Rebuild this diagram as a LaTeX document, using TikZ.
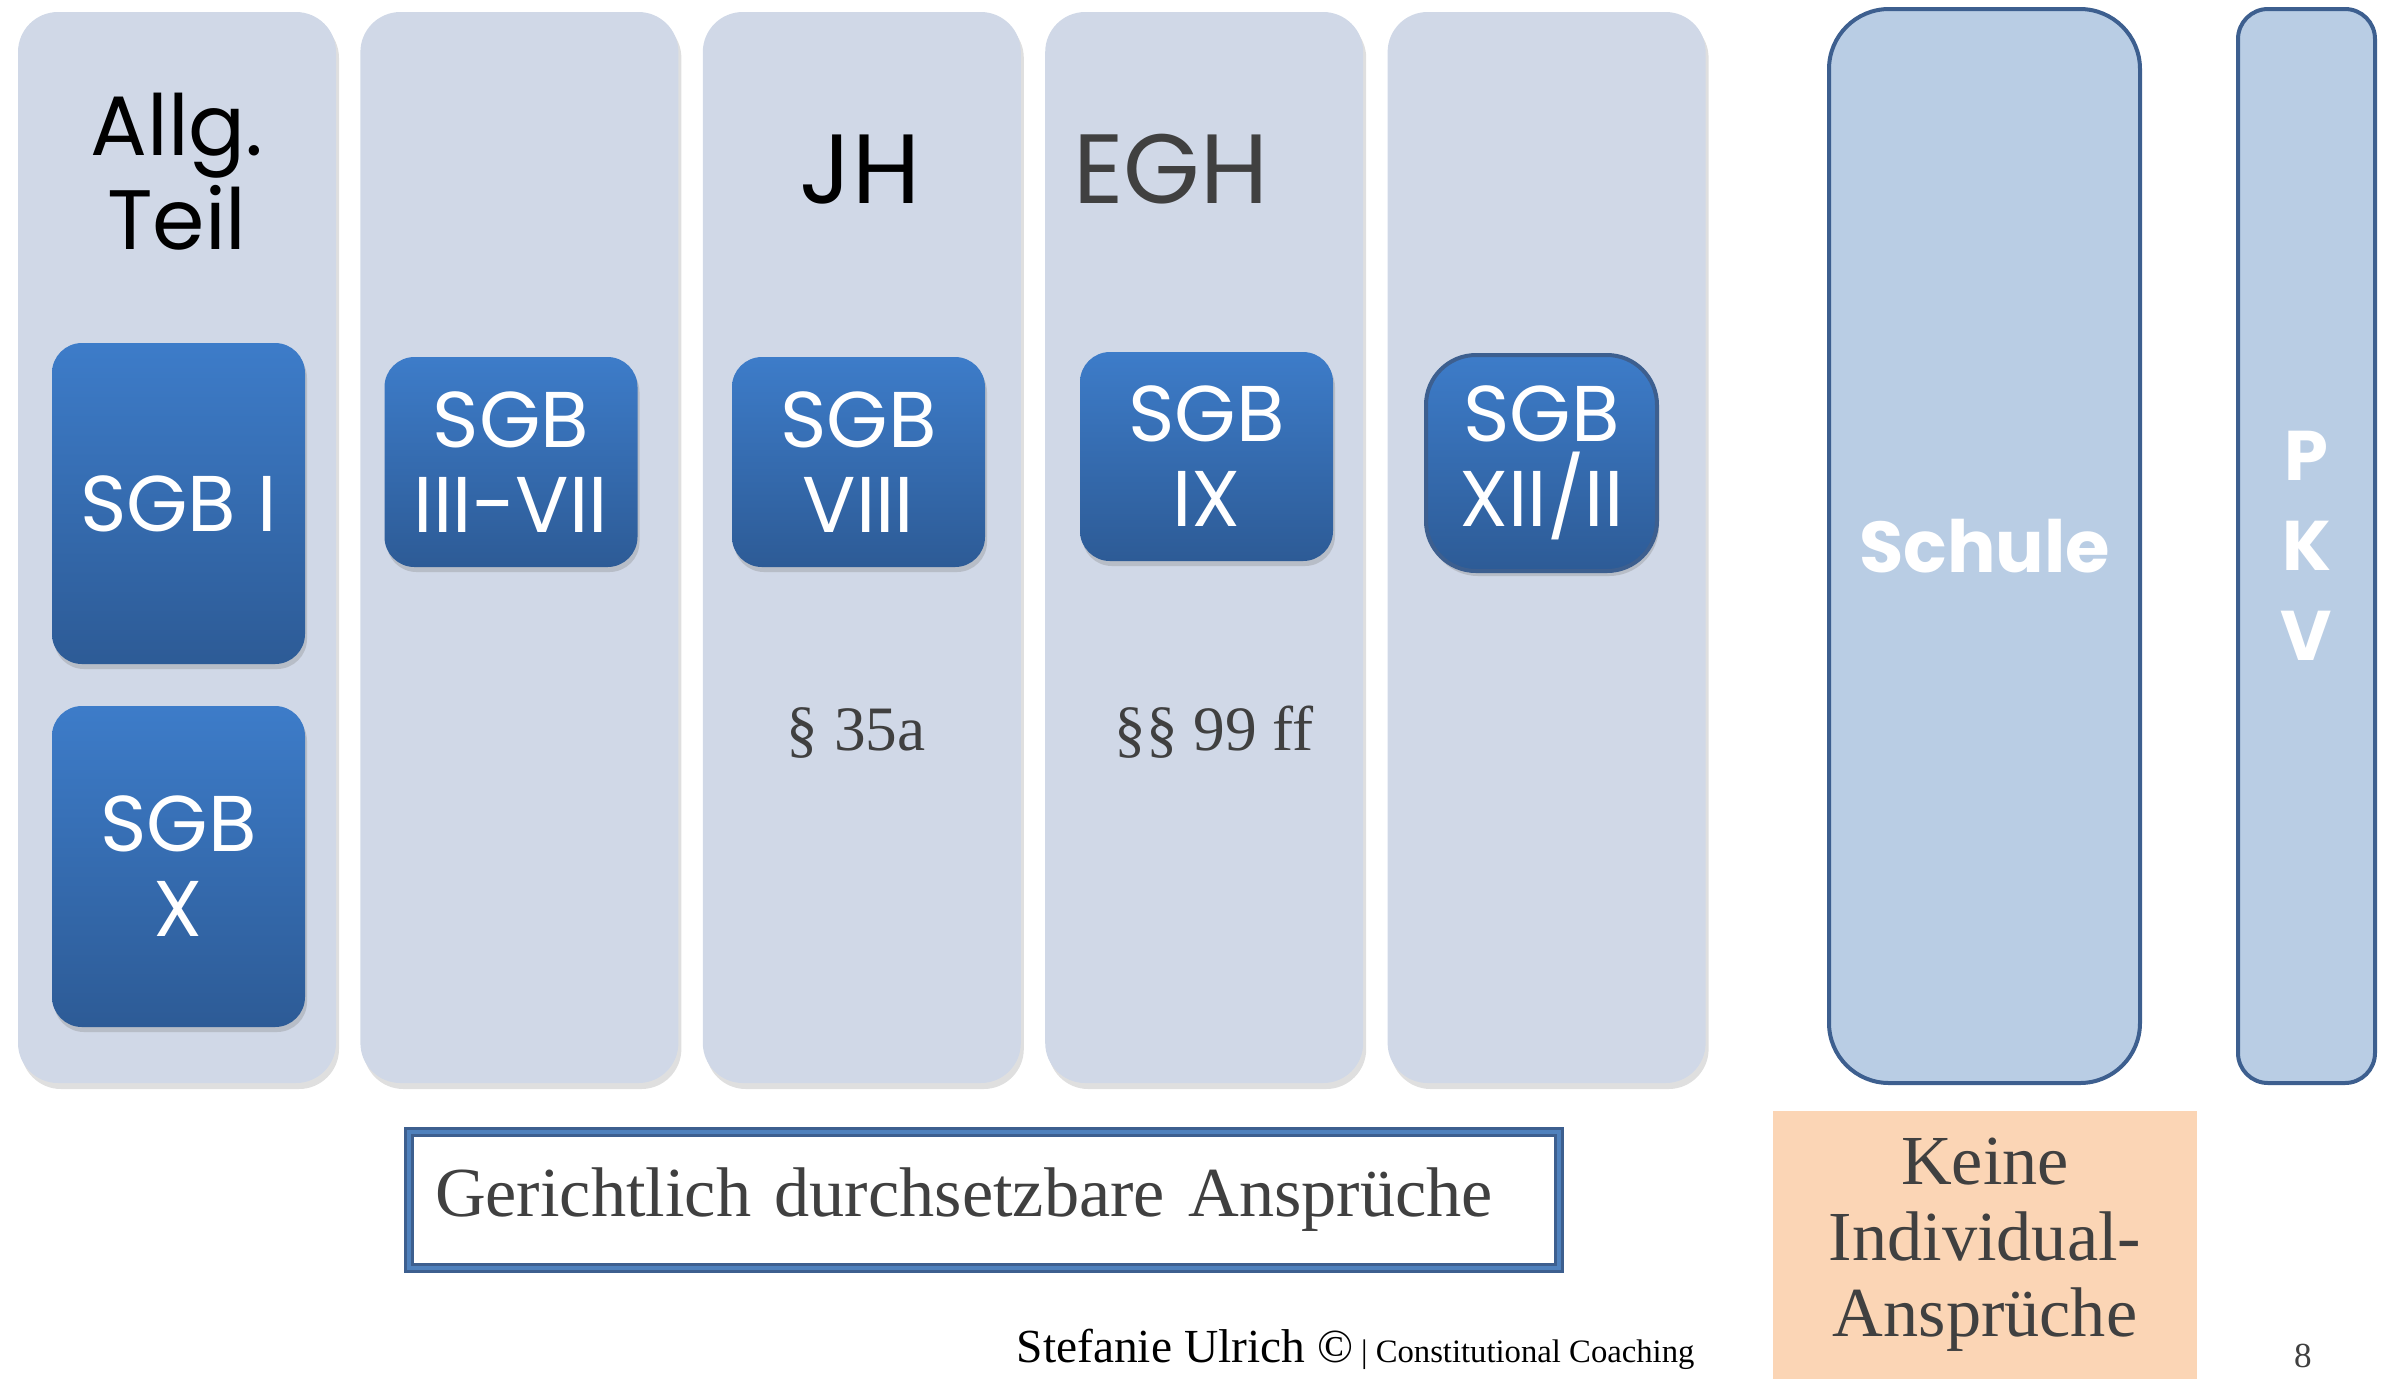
\documentclass[tikz,border=0pt]{standalone}
\usepackage{fontspec}
\setmainfont{Liberation Serif}
\newfontfamily\gothic{Poppins}
\usepackage{tikz}
\usepackage{xcolor}
\usetikzlibrary{positioning}
\usetikzlibrary{shadows}
\definecolor{colfill}{HTML}{D0D8E7}
\definecolor{sgbtop}{HTML}{3D7CC9}
\definecolor{sgbbot}{HTML}{2D5B96}
\definecolor{schulefill}{HTML}{B9CDE4}
\definecolor{bordblue}{HTML}{3D5F8F}
\definecolor{framelight}{HTML}{4F81BD}
\definecolor{keinefill}{HTML}{FBD5B5}
\definecolor{textgrey}{HTML}{404040}
\tikzstyle{column} = [rounded corners=0.4cm, fill=colfill, minimum width=3.18cm, minimum height=10.71cm, inner sep=0pt, drop shadow={opacity=0.25, shadow xshift=0.03cm, shadow yshift=-0.06cm}]
\tikzstyle{sgb} = [rounded corners=0.3cm, top color=sgbtop, bottom color=sgbbot, text=white, align=center, inner sep=0pt, minimum width=2.53cm, font=\gothic\fontsize{22.5}{24.2}\selectfont, drop shadow={opacity=0.3, shadow xshift=0.02cm, shadow yshift=-0.05cm}]
\tikzstyle{rightbox} = [draw=bordblue, line width=0.04cm, fill=schulefill, minimum height=10.74cm, inner sep=0pt, text=white, align=center]

\begin{document}
\begin{tikzpicture}
			\useasboundingbox (0,0) rectangle (23.92,-13.79);
			\node[column] at (1.77,-5.475) (col1) {};
			\node[column, right=0.23cm of col1] (col2) {};
			\node[column, right=0.23cm of col2] (col3) {};
			\node[column, right=0.23cm of col3] (col4) {};
			\node[column, right=0.23cm of col4] (col5) {};

			\node[align=center, font=\gothic\fontsize{24}{26.7}\selectfont] at (1.77,-1.72) (allg) {Allg.\\Teil};
			\node[anchor=base, font=\gothic\fontsize{28}{30}\selectfont] at (8.60,-2.03) (jh) {JH};
			\node[anchor=base, text=textgrey, font=\gothic\fontsize{28}{30}\selectfont] at (11.71,-2.03) (egh) {EGH};

			\node[sgb, minimum height=3.21cm] at (1.785,-5.035) (sgbI) {SGB I};
			\node[sgb, minimum height=3.21cm] at (1.785,-8.665) (sgbX) {SGB\\X};
			\node[sgb, minimum height=2.10cm] at (5.11,-4.62) (sgbIII) {SGB\\III-VII};
			\node[sgb, minimum height=2.10cm] at (8.585,-4.62) (sgbVIII) {SGB\\VIII};
			\node[sgb, minimum height=2.09cm] at (12.065,-4.565) (sgbIX) {SGB\\IX};
			\node[sgb, draw=bordblue, line width=0.04cm, rounded corners=0.5cm, minimum width=2.31cm, minimum height=2.16cm] at (15.415,-4.63) (sgbXII) {SGB\\XII/II};

			\node[anchor=base, text=textgrey, font=\fontsize{18}{20}\selectfont] at (8.56,-7.50) (par35) {§ 35a};
			\node[anchor=base, text=textgrey, font=\fontsize{18}{20}\selectfont] at (12.14,-7.50) (par99) {§§ 99 ff};

			\node[rightbox, rounded corners=0.6cm, minimum width=3.11cm, font=\gothic\bfseries\fontsize{20.5}{24}\selectfont] at (19.845,-5.46) (schule) {Schule};
			\node[rightbox, rounded corners=0.3cm, minimum width=1.37cm, font=\gothic\bfseries\fontsize{20}{25.6}\selectfont] at (23.065,-5.46) (pkv) {P\\K\\V};

			\node[draw=bordblue, line width=0.9pt, double=framelight, double distance=1.1pt, fill=white, minimum width=11.5cm, minimum height=1.36cm, text width=10.98cm, inner xsep=0.26cm, align=left, text=textgrey, font=\fontsize{20}{22}\selectfont] at (9.84,-12.0) (anspr) {Gerichtlich durchsetzbare Ansprüche};
			\node[fill=keinefill, minimum width=4.24cm, minimum height=2.68cm, align=center, text=textgrey, font=\fontsize{20}{21.6}\selectfont] at (19.85,-12.45) (keine) {Keine\\Individual-\\Ansprüche};

			\node[anchor=base west, inner sep=0pt, font=\fontsize{13.5}{14}\selectfont] at (10.16,-13.62) (footer) {Stefanie Ulrich ©\,{\fontsize{9.3}{10}\selectfont| Constitutional Coaching}};
			\node[anchor=base, text=textgrey, font=\fontsize{10}{12}\selectfont] at (23.03,-13.67) (pnum) {8};
		\end{tikzpicture}
\end{document}
